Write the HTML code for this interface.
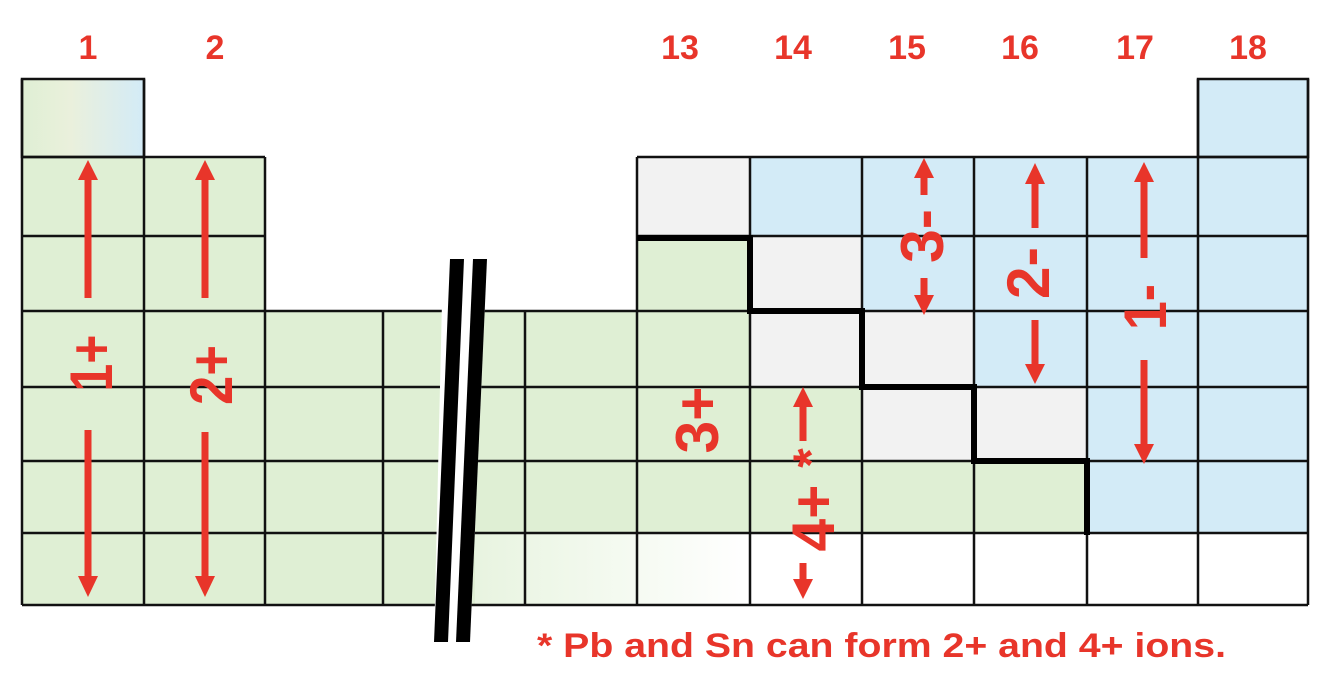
<!DOCTYPE html>
<html><head><meta charset="utf-8"><style>
html,body{margin:0;padding:0;background:#fff;}
svg{display:block;}
text{font-family:"Liberation Sans",sans-serif;font-weight:bold;fill:#e8352a;}
</style></head><body>
<svg width="1336" height="684" viewBox="0 0 1336 684" xmlns="http://www.w3.org/2000/svg">
<defs>
<linearGradient id="g1" x1="0" x2="1" y1="0" y2="0">
<stop offset="0" stop-color="#dfefd4"/><stop offset="0.4" stop-color="#eaf0dc"/><stop offset="1" stop-color="#d3ebf7"/>
</linearGradient>
<linearGradient id="fade" x1="0" x2="1" y1="0" y2="0">
<stop offset="0" stop-color="#e8f4e0"/><stop offset="1" stop-color="#ffffff"/>
</linearGradient>
</defs>
<rect x="22" y="79" width="122" height="78" fill="url(#g1)"/>
<rect x="22" y="157" width="243" height="448" fill="#dfefd4"/>
<rect x="265" y="311" width="372" height="222" fill="#dfefd4"/>
<rect x="265" y="533" width="210" height="72" fill="#dfefd4"/>
<rect x="475" y="533" width="275" height="72" fill="url(#fade)"/>
<rect x="637" y="157" width="113" height="79" fill="#f2f2f2"/>
<rect x="637" y="236" width="113" height="297" fill="#dfefd4"/>
<rect x="750" y="157" width="448" height="79" fill="#d3ebf7"/>
<rect x="1198" y="79" width="110" height="454" fill="#d3ebf7"/>
<rect x="750" y="236" width="112" height="151" fill="#f2f2f2"/>
<rect x="862" y="236" width="336" height="75" fill="#d3ebf7"/>
<rect x="862" y="311" width="112" height="150" fill="#f2f2f2"/>
<rect x="974" y="311" width="224" height="76" fill="#d3ebf7"/>
<rect x="974" y="387" width="113" height="74" fill="#f2f2f2"/>
<rect x="1087" y="387" width="111" height="146" fill="#d3ebf7"/>
<rect x="750" y="387" width="112" height="146" fill="#dfefd4"/>
<rect x="862" y="461" width="225" height="72" fill="#dfefd4"/>
<g stroke="#111" stroke-width="2.5" fill="none">
<rect x="22" y="79" width="122" height="78"/>
<rect x="1198" y="79" width="110" height="78"/>
<line x1="22" y1="157" x2="265" y2="157"/>
<line x1="637" y1="157" x2="1308" y2="157"/>
<line x1="22" y1="236" x2="265" y2="236"/>
<line x1="637" y1="236" x2="1308" y2="236"/>
<line x1="22" y1="311" x2="1308" y2="311"/>
<line x1="22" y1="387" x2="1308" y2="387"/>
<line x1="22" y1="461" x2="1308" y2="461"/>
<line x1="22" y1="533" x2="1308" y2="533"/>
<line x1="22" y1="605" x2="1308" y2="605"/>
<line x1="22" y1="79" x2="22" y2="605"/>
<line x1="144" y1="79" x2="144" y2="605"/>
<line x1="265" y1="157" x2="265" y2="605"/>
<line x1="383" y1="311" x2="383" y2="605"/>
<line x1="525" y1="311" x2="525" y2="605"/>
<line x1="637" y1="157" x2="637" y2="605"/>
<line x1="750" y1="157" x2="750" y2="605"/>
<line x1="862" y1="157" x2="862" y2="605"/>
<line x1="974" y1="157" x2="974" y2="605"/>
<line x1="1087" y1="157" x2="1087" y2="605"/>
<line x1="1198" y1="79" x2="1198" y2="605"/>
<line x1="1308" y1="79" x2="1308" y2="605"/>
</g>
<polygon points="443,259 487,259 470,642 434,642" fill="#fff"/>
<polygon points="450,259 464,259 448,642 434,642" fill="#000"/>
<polygon points="473,259 487,259 470,642 456,642" fill="#000"/>
<polyline points="637,238 750,238 750,311 862,311 862,387 974,387 974,461 1087,461 1087,535" fill="none" stroke="#000" stroke-width="6"/>
<g fill="#e8352a">
<rect x="84.5" y="178" width="7" height="120"/><polygon points="88,160 78,180 98,180"/>
<rect x="84.5" y="430" width="7" height="148"/><polygon points="88,597 78,576 98,576"/>
<rect x="201.5" y="178" width="7" height="120"/><polygon points="205,160 195,180 215,180"/>
<rect x="201.5" y="432" width="7" height="146"/><polygon points="205,597 195,576 215,576"/>
<rect x="799.5" y="405" width="7" height="36"/><polygon points="803,387 793,407 813,407"/>
<rect x="799.5" y="563" width="7" height="18"/><polygon points="803,599 793,579 813,579"/>
<rect x="920.5" y="176" width="7" height="19"/><polygon points="924,158 914,178 934,178"/>
<rect x="920.5" y="278" width="7" height="20"/><polygon points="924,315 914,295 934,295"/>
<rect x="1031.5" y="182" width="7" height="46"/><polygon points="1035,163 1025,184 1045,184"/>
<rect x="1031.5" y="320" width="7" height="46"/><polygon points="1035,384 1025,364 1045,364"/>
<rect x="1140.5" y="180" width="7" height="78"/><polygon points="1144,162 1134,182 1154,182"/>
<rect x="1140.5" y="360" width="7" height="86"/><polygon points="1144,464 1134,444 1154,444"/>
</g>
<g font-size="60" text-anchor="middle">
<text transform="translate(112,363) rotate(-90)" textLength="57" lengthAdjust="spacingAndGlyphs">1+</text>
<text transform="translate(232,375) rotate(-90)" textLength="60" lengthAdjust="spacingAndGlyphs">2+</text>
<text transform="translate(718,420) rotate(-90)" textLength="67" lengthAdjust="spacingAndGlyphs">3+</text>
<text transform="translate(834,518) rotate(-90)" textLength="67" lengthAdjust="spacingAndGlyphs">4+</text>
<text transform="translate(943,236) rotate(-90)" textLength="54" lengthAdjust="spacingAndGlyphs">3-</text>
<text transform="translate(1049,273) rotate(-90)" textLength="52" lengthAdjust="spacingAndGlyphs">2-</text>
<text transform="translate(1166,307) rotate(-90)" textLength="46" lengthAdjust="spacingAndGlyphs">1-</text>
</g>
<text transform="translate(828,458) rotate(-90)" font-size="50" text-anchor="middle">*</text>
<g font-size="34" text-anchor="middle">
<text x="88" y="59">1</text>
<text x="215" y="59">2</text>
<text x="680" y="59">13</text>
<text x="793" y="59">14</text>
<text x="907" y="59">15</text>
<text x="1020" y="59">16</text>
<text x="1135" y="59">17</text>
<text x="1248" y="59">18</text>
</g>
<text x="537" y="657" font-size="34" textLength="689" lengthAdjust="spacingAndGlyphs">* Pb and Sn can form 2+ and 4+ ions.</text>
</svg>
</body></html>
